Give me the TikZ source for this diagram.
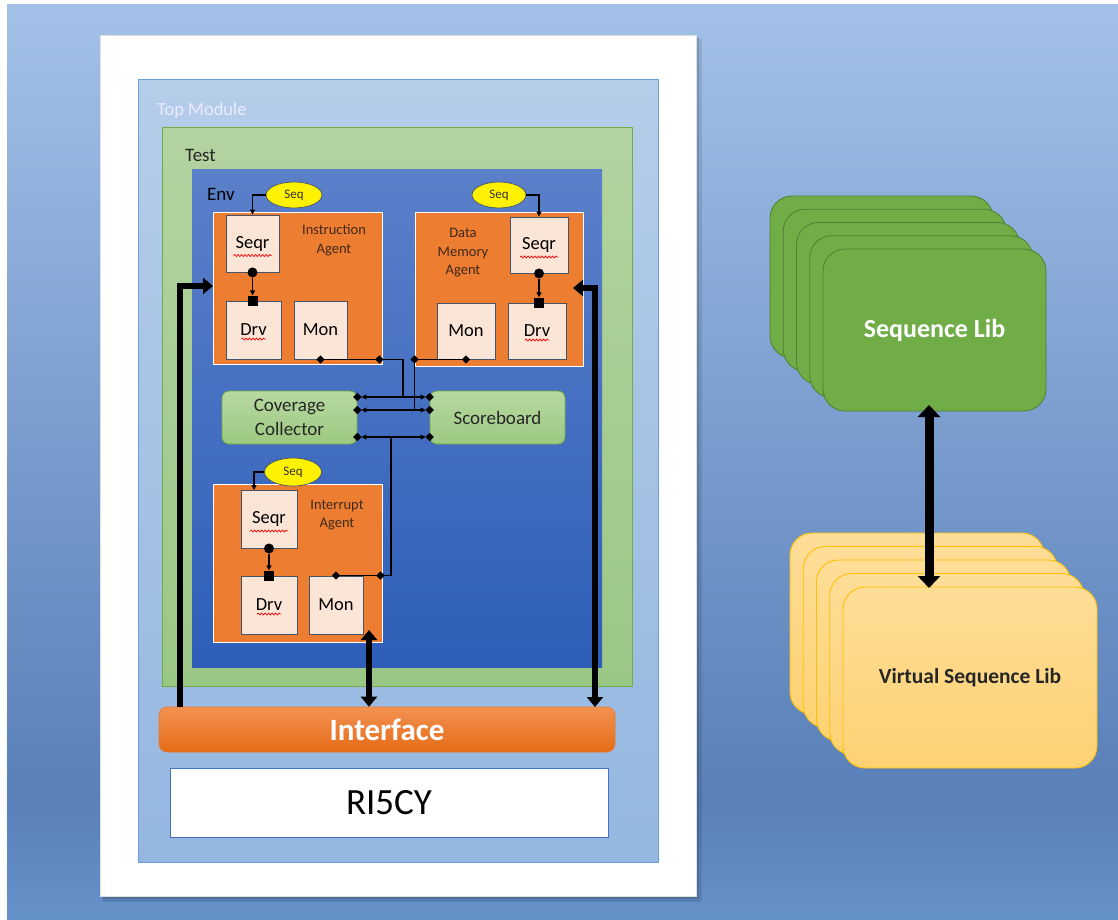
\documentclass[tikz,border=0pt]{standalone}
\usepackage{fontspec}
\setmainfont{Carlito}
\usetikzlibrary{arrows.meta,shapes.geometric,decorations.pathmorphing,calc}
\definecolor{bgtop}{HTML}{A3C1E8}
\definecolor{bgmid}{HTML}{6A8FC4}
\definecolor{bglow}{HTML}{5A80B9}
\definecolor{bgbot}{HTML}{6591C9}
\definecolor{tmtop}{HTML}{B5CDE9}
\definecolor{tmbot}{HTML}{94B7E0}
\definecolor{tmline}{HTML}{6D9ED8}
\definecolor{tstop}{HTML}{B3D3A0}
\definecolor{tsbot}{HTML}{9BC785}
\definecolor{grline}{HTML}{70AD47}
\definecolor{envtop}{HTML}{5B80CA}
\definecolor{envbot}{HTML}{2E5EB8}
\definecolor{agentor}{HTML}{ED7D31}
\definecolor{innerfill}{HTML}{FBE5D6}
\definecolor{innerline}{HTML}{44546A}
\definecolor{comptop}{HTML}{B8D9A1}
\definecolor{compbot}{HTML}{9CC881}
\definecolor{iftop}{HTML}{F39150}
\definecolor{ifbot}{HTML}{E46C17}
\definecolor{coreline}{HTML}{4472C4}
\definecolor{cardg}{HTML}{70AD47}
\definecolor{cardgline}{HTML}{507E32}
\definecolor{cardytop}{HTML}{FEDD97}
\definecolor{cardybot}{HTML}{FDD273}
\definecolor{cardyline}{HTML}{FFC000}
\definecolor{lbltext}{HTML}{3F2A1A}
\begin{document}
\begin{tikzpicture}[x=1pt,y=-1pt,
  wh/.style 2 args={minimum width=#1pt,minimum height=#2pt},
  sbox/.style={draw=innerline,line width=0.9pt,fill=innerfill,inner sep=0pt,
    font=\fontsize{18.5}{20}\selectfont,text=black},
  sagent/.style={draw=white,line width=0.8pt,fill=agentor,inner sep=0pt},
  sseq/.style={ellipse,draw=innerline,line width=0.7pt,fill=yellow,inner sep=0pt,
    font=\fontsize{13}{14}\selectfont,text=black!80},
  scomp/.style={rounded corners=7pt,draw=grline,line width=0.8pt,top color=comptop,
    bottom color=compbot,inner sep=0pt,align=center,
    font=\fontsize{19}{24}\selectfont,text=black!85},
  slbl/.style={align=center,font=\fontsize{14.5}{18.5}\selectfont,text=lbltext,inner sep=0pt},
  sconn/.style={line width=1.1pt,-{Triangle[length=5pt,width=5pt]}},
  swire/.style={line width=1.1pt},
  sdia/.style={diamond,fill=black,inner sep=0pt,minimum size=8.5pt},
  sdot/.style={circle,fill=black,inner sep=0pt,minimum size=10pt},
  ssq/.style={rectangle,fill=black,inner sep=0pt,minimum size=10pt},
  sthk/.style={line width=6pt},
  ssquig/.style={red,line width=0.7pt,decorate,decoration={snake,amplitude=1pt,segment length=3.5pt}},
  scardg/.style={rounded corners=22pt,draw=cardgline,line width=0.8pt,fill=cardg,inner sep=0pt},
  scardy/.style={rounded corners=22pt,draw=cardyline,line width=0.9pt,top color=cardytop,bottom color=cardybot,inner sep=0pt}
]
\useasboundingbox (0,0) rectangle (1118,920);
% slide background
\fill[white] (0,0) rectangle (1118,920);
\shade[top color=bgtop,bottom color=bgmid] (7,5) rectangle (1118,600);
\shade[top color=bgmid,bottom color=bglow] (7,600) rectangle (1118,800);
\shade[top color=bglow,bottom color=bgbot] (7,800) rectangle (1118,920);

% page
\fill[black,opacity=0.10] (103,39) rectangle (702,902);
\fill[black,opacity=0.12] (102,37) rectangle (699,899);
\node[fill=white,draw=black!12,line width=0.5pt,wh={596}{861},inner sep=0pt] (page) at (398,465.5) {};

% containers
\node[top color=tmtop,bottom color=tmbot,draw=tmline,line width=1pt,wh={520}{782},inner sep=0pt] (top) at (398,471) {};
\node[anchor=west,inner sep=0pt,text=white!92!blue,font=\fontsize{18.5}{20}\selectfont] (toplbl) at (157,111) {Top Module};
\node[top color=tstop,bottom color=tsbot,draw=grline,line width=1pt,wh={470}{558},inner sep=0pt] (test) at (397,407) {};
\node[anchor=west,inner sep=0pt,text=black!85,font=\fontsize{19}{20}\selectfont] (testlbl) at (185,155) {Test};
\node[top color=envtop,bottom color=envbot,wh={410}{497},inner sep=0pt] (env) at (397,418.5) {};
\node[anchor=west,inner sep=0pt,text=black,font=\fontsize{19}{20}\selectfont] (envlbl) at (207,194) {Env};

% agents
\node[sagent,wh={169}{152}] (ia) at (297.5,288) {};
\node[sagent,wh={168}{154}] (dma) at (499,289) {};
\node[sagent,wh={169}{158}] (intr) at (297.5,563) {};
\node[slbl] (ialbl) at (334,240) {Instruction\\Agent};
\node[slbl] (dmalbl) at (463,253) {Data\\Memory\\Agent};
\node[slbl] (intrlbl) at (337,515) {Interrupt\\Agent};

% inner boxes
\node[sbox,wh={53}{57}] (iseqr) at (252.5,243.5) {Seqr};
\node[sbox,wh={55}{58}] (idrv) at (253.5,330) {Drv};
\node[sbox,wh={53}{58}] (imon) at (320.5,330) {Mon};
\node[sbox,wh={58}{56}] (dseqr) at (539,245) {Seqr};
\node[sbox,wh={58}{56}] (ddrv) at (537,331) {Drv};
\node[sbox,wh={58}{56}] (dmon) at (466,331) {Mon};
\node[sbox,wh={56}{58}] (rseqr) at (269,519) {Seqr};
\node[sbox,wh={56}{58}] (rdrv) at (269,605) {Drv};
\node[sbox,wh={54}{58}] (rmon) at (336,605) {Mon};

% spell-check squiggles
\foreach \n in {iseqr,dseqr,rseqr}{
  \draw[ssquig] ($(\n.center)+(-19,12)$) -- ($(\n.center)+(19,12)$);}
\foreach \n in {idrv,ddrv,rdrv}{
  \draw[ssquig] ($(\n.center)+(-12,9)$) -- ($(\n.center)+(12,9)$);}

% sequence ellipses
\node[sseq,wh={56}{26}] (iseq) at (294,195) {Seq};
\node[sseq,wh={54}{26}] (dseq) at (499,195) {Seq};
\node[sseq,wh={57}{28}] (rseq) at (293,472) {Seq};
\draw[sconn] (iseq.west) -| (iseqr.north);
\draw[sconn] (dseq.east) -| (dseqr.north);
\coordinate (rseqin) at (254,490);
\draw[sconn] (rseq.west) -| (rseqin);

% sequencer -> driver
\node[sdot] (idot) at (iseqr.south) {};
\node[ssq] (isq) at (iseqr.south |- idrv.north) {};
\draw[sconn] (idot) -- (isq);
\node[sdot] (ddot) at (dseqr.south) {};
\node[ssq] (dsq) at (dseqr.south |- ddrv.north) {};
\draw[sconn] (ddot) -- (dsq);
\node[sdot] (rdot) at (rseqr.south) {};
\node[ssq] (rsq) at (rseqr.south |- rdrv.north) {};
\draw[sconn] (rdot) -- (rsq);

% coverage and scoreboard
\node[scomp,wh={135}{53}] (cov) at (289.5,417.5) {Coverage\\Collector};
\node[scomp,wh={135}{53}] (sb) at (497.5,417.5) {Scoreboard};
\coordinate (c1) at (cov.east |- 0,397);
\coordinate (c2) at (cov.east |- 0,410);
\coordinate (c3) at (cov.east |- 0,437);
\coordinate (s1) at (sb.west |- 0,397);
\coordinate (s2) at (sb.west |- 0,410);
\coordinate (s3) at (sb.west |- 0,437);
\foreach \a/\b in {c1/s1,c2/s2,c3/s3}{
  \draw[swire,{Triangle[length=5pt,width=5pt]}-{Triangle[length=5pt,width=5pt]},shorten <=4pt,shorten >=4pt] (\a) -- (\b);
  \node[sdia] at (\a) {};
  \node[sdia] at (\b) {};}

% monitor analysis connections
\node[sdia] (im1) at (imon.south) {};
\path (ia.east |- imon.south) ++(-3,0) node[sdia] (im2) {};
\coordinate (v1) at (403,397);
\draw[swire] (im1.center) -- (im2.center) -| (v1);
\node[sdia] (dm1) at (dmon.south) {};
\node[sdia] (dm2) at (dma.west |- dmon.south) {};
\draw[swire] (dm1.center) -- (dm2.center) -- (dm2.center |- c2);
\node[sdia] (rm1) at (rmon.north) {};
\path (intr.east |- rmon.north) ++(-2,0) node[sdia] (rm2) {};
\coordinate (v3) at (391,437);
\draw[swire] (rm1.center) -- (rm2.center) -| (v3);

% interface and core
\node[rounded corners=8pt,top color=iftop,bottom color=ifbot,draw=ifbot!90!white,line width=0.6pt,
  wh={456}{45},inner sep=0pt,text=white,font=\bfseries\fontsize{31}{32}\selectfont] (iface) at (387,729.5) {Interface};
\node[fill=white,draw=coreline,line width=1pt,wh={438}{69},inner sep=0pt,
  font=\fontsize{37}{38}\selectfont,text=black] (core) at (389,802.5) {RI5CY};

% thick interface connections
\coordinate (lbot) at (180,707);
\coordinate (ltop) at (213,286);
\draw[sthk,-{Triangle[length=10pt,width=16pt]}] (lbot) |- (ltop);
\coordinate (rtop) at (573,288);
\coordinate (rbot) at (595,707);
\draw[sthk,{Triangle[length=10pt,width=16pt]}-{Triangle[length=10pt,width=16pt]}] (rtop) -| (rbot);
\coordinate (mtop) at (369,630);
\draw[sthk,{Triangle[length=10pt,width=16pt]}-{Triangle[length=10pt,width=16pt]}] (mtop) -- (mtop |- iface.north);

% sequence lib stack
\foreach \k in {0,...,3}{
  \node[scardg,wh={223}{162}] at ({881.5+\k*13.25},{277+\k*13.25}) {};}
\node[scardg,wh={223}{162},text=white,font=\bfseries\fontsize{26}{28}\selectfont] (seqlib) at (934.5,330) {Sequence Lib};

% virtual sequence lib stack
\foreach \k in {0,...,3}{
  \node[scardy,wh={254}{181}] at ({917+\k*13.25},{623.5+\k*13.5}) {};}
\node[scardy,wh={254}{181},text=black!85,font=\bfseries\fontsize{21.5}{23}\selectfont] (vsl) at (970,677.5) {Virtual Sequence Lib};

\coordinate (stop) at (929,405);
\coordinate (sbot) at (929,588);
\draw[line width=9pt,{Triangle[length=12pt,width=22pt]}-{Triangle[length=12pt,width=22pt]}] (stop) -- (sbot);
\end{tikzpicture}
\end{document}
